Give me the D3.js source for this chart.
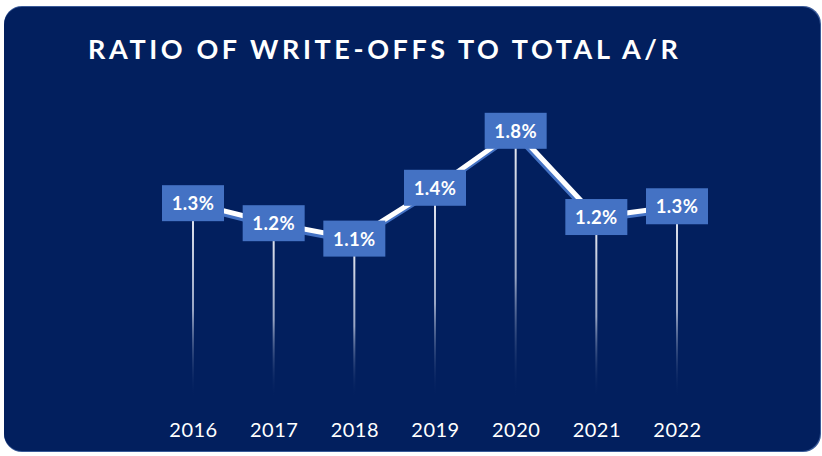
<!DOCTYPE html>
<html>
<head>
<meta charset="utf-8">
<script src="https://cdn.jsdelivr.net/npm/d3@7"></script>
<style>
  html, body { margin: 0; padding: 0; background: #ffffff; }
  svg { display: block; }
</style>
</head>
<body>
<svg id="svg" width="822" height="456"></svg>
<script>
// chart data
const years = ["2016", "2017", "2018", "2019", "2020", "2021", "2022"];
const ratios = [1.33, 1.20, 1.10, 1.43, 1.80, 1.24, 1.31];
const title = "RATIO OF WRITE-OFFS TO TOTAL A/R";

const svg = d3.select("#svg");
const data = years.map((y, i) => ({ year: y, value: ratios[i] }));

// x positions of the years
const x = d3.scalePoint()
  .domain(years)
  .range([193, 677]);

// value -> vertical position
const y = d3.scaleLinear()
  .domain([0, 2])
  .range([408, 100]);

const defs = svg.append("defs");

// fading gradient for the drop lines
const grad = defs.append("linearGradient")
  .attr("id", "drop")
  .attr("x1", 0).attr("y1", 0).attr("x2", 0).attr("y2", 1);
grad.append("stop").attr("offset", "0%").attr("stop-color", "#eef0f6").attr("stop-opacity", 1);
grad.append("stop").attr("offset", "55%").attr("stop-color", "#b3bdd6").attr("stop-opacity", 0.85);
grad.append("stop").attr("offset", "100%").attr("stop-color", "#021f5e").attr("stop-opacity", 0);

// panel
svg.append("rect")
  .attr("x", 4).attr("y", 6)
  .attr("width", 817).attr("height", 446)
  .attr("rx", 18)
  .attr("fill", "#3a5a98");
svg.append("rect")
  .attr("x", 4).attr("y", 7)
  .attr("width", 816).attr("height", 444)
  .attr("rx", 18)
  .attr("fill", "#021f5e");

// title
svg.append("text")
  .attr("x", 88)
  .attr("y", 59)
  .attr("fill", "#ffffff")
  .style("font-family", "Lato, 'Open Sans', sans-serif")
  .style("font-weight", "bold")
  .style("font-size", "27px")
  .style("letter-spacing", "3.6px")
  .text(title);

// drop lines from each point
svg.selectAll(".drop")
  .data(data)
  .join("rect")
  .attr("class", "drop")
  .attr("x", (d) => x(d.year) - 1)
  .attr("y", (d) => y(d.value))
  .attr("width", 2)
  .attr("height", (d) => 398 - y(d.value))
  .attr("fill", "url(#drop)");

// line with a blue shadow under it
const line = d3.line()
  .x((d) => x(d.year))
  .y((d) => y(d.value));

svg.append("path")
  .datum(data)
  .attr("d", line)
  .attr("transform", "translate(-1,3)")
  .attr("fill", "none")
  .attr("stroke", "#4472c4")
  .attr("stroke-width", 5)
  .attr("stroke-linejoin", "round");

svg.append("path")
  .datum(data)
  .attr("d", line)
  .attr("fill", "none")
  .attr("stroke", "#ffffff")
  .attr("stroke-width", 5)
  .attr("stroke-linejoin", "round");

// value labels
const lab = svg.selectAll(".lab")
  .data(data)
  .join("g")
  .attr("class", "lab")
  .attr("transform", (d) => "translate(" + x(d.year) + "," + y(d.value) + ")");

lab.append("rect")
  .attr("x", -31)
  .attr("y", -18)
  .attr("width", 62)
  .attr("height", 36)
  .attr("fill", "#4472c4");

lab.append("text")
  .attr("x", 0)
  .attr("y", 7)
  .attr("text-anchor", "middle")
  .attr("fill", "#ffffff")
  .style("font-family", "Lato, 'Open Sans', sans-serif")
  .style("font-weight", "bold")
  .style("font-size", "18.5px")
  .style("letter-spacing", "0.4px")
  .text((d) => d.value.toFixed(1) + "%");

// year axis
const axis = svg.append("g")
  .attr("transform", "translate(0,437)")
  .call(d3.axisBottom(x).tickSize(0).tickPadding(0));
axis.select(".domain").remove();
axis.selectAll("text")
  .attr("dy", 0)
  .attr("fill", "#ffffff")
  .style("font-family", "Lato, 'Open Sans', sans-serif")
  .style("font-size", "20px")
  .style("letter-spacing", "0.5px");
</script>
</body>
</html>
